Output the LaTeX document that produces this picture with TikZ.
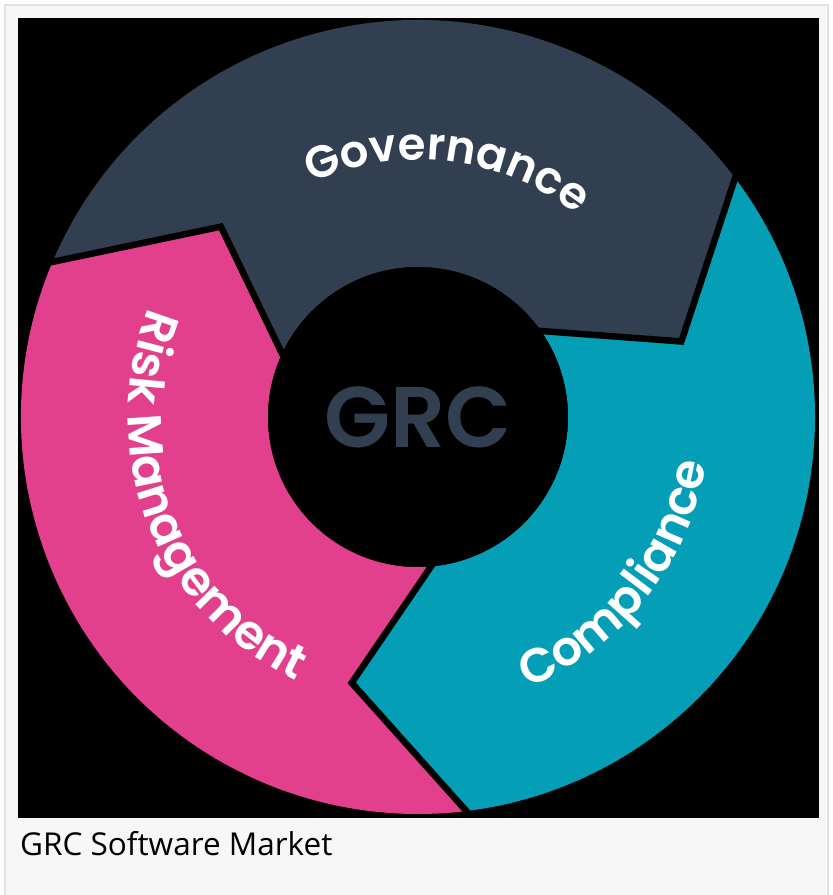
\documentclass[tikz,border=0pt]{standalone}
\usepackage{fontspec}
\setmainfont{Open Sans}
\newfontfamily\labelfont{Poppins}[UprightFont={* SemiBold}]
\usetikzlibrary{calc, decorations.text}
\definecolor{govcol}{HTML}{323F50}
\definecolor{riskcol}{HTML}{E2408C}
\definecolor{compcol}{HTML}{049EB7}
\definecolor{pagecol}{HTML}{F7F7F7}
\definecolor{framecol}{HTML}{E2E2E2}
\tikzset{
  gap/.style={line width=6.5pt, black},
  hub/.style={circle, fill=black, minimum size=300pt, inner sep=0pt, text=govcol,
    font=\labelfont\fontsize{86}{86}\selectfont},
  caption/.style={anchor=base west, inner sep=0pt, font=\fontsize{31.5}{31.5}\selectfont},
  ringtext/.style 2 args={decorate, decoration={text along path, text align=center, text color=white,
    text={|\labelfont\fontsize{#1}{#1}\selectfont|#2}}}
}
\begin{document}
\begin{tikzpicture}[x=1pt, y=1pt]
    \useasboundingbox (-418,417) rectangle (415,-478);
    \fill[white] (-418,417) rectangle (415,-478);
    \draw[framecol, fill=pagecol, line width=2pt] (-413,412) rectangle (410,-484);
    \fill[black] (-400,399) rectangle (401,-401);
    % boundary points of the three arrows
    \foreach \k/\a in {A/156, B/36, C/-84} {
        \coordinate (out\k) at (\a+1:397);
        \coordinate (tip\k) at (\a-20:274);
        \coordinate (in\k) at (\a-1:150);
    }
    \fill[govcol] (outA) arc[start angle=157, end angle=37, radius=397] -- (tipB) -- (inB)
        arc[start angle=35, end angle=155, radius=150] -- (tipA) -- cycle;
    \fill[riskcol] (outA) arc[start angle=157, end angle=277, radius=397] -- (tipC) -- (inC)
        arc[start angle=275, end angle=155, radius=150] -- (tipA) -- cycle;
    \fill[compcol] (outB) arc[start angle=37, end angle=-83, radius=397] -- (tipC) -- (inC)
        arc[start angle=-85, end angle=35, radius=150] -- (tipB) -- cycle;
    \foreach \k in {A,B,C}
        \draw[gap] ($(tip\k)!1.015!(out\k)$) -- (tip\k) -- ($(tip\k)!1.1!(in\k)$);
    \node[hub] (grc) at (0,0) {GRC};
    % labels along the ring
    \path[ringtext={45}{Governance}] (143.2:257) arc[start angle=143.2, end angle=23.2, radius=257];
    \path[ringtext={48}{Risk Management}] (141.6:290) arc[start angle=141.6, end angle=261.6, radius=290];
    \path[ringtext={48}{Compliance}] (-98.5:292) arc[start angle=-98.5, end angle=21.5, radius=292];
    \node[caption] (title) at (-398,-438) {GRC Software Market};
\end{tikzpicture}
\end{document}
